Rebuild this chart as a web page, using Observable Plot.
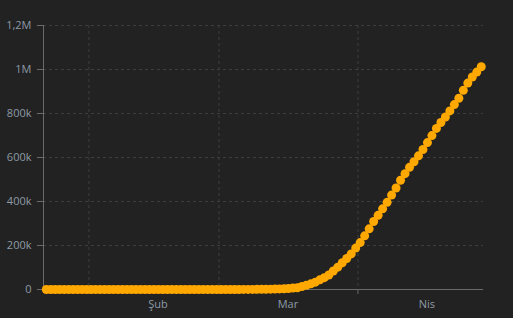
<!DOCTYPE html>
<html><head><meta charset="utf-8">
<script src="https://cdn.jsdelivr.net/npm/d3@7"></script>
<script src="https://cdn.jsdelivr.net/npm/@observablehq/plot@0.6"></script>
<style>html,body{margin:0;padding:0;background:#222222;overflow:hidden;}</style>
</head><body><div id="chart"></div>
<script>
// Daily cumulative values, one per day starting 22 Jan 2020
const startDate = [2020, 0, 22];
const cases = [
  1, 1, 2, 2, 5, 5, 5, 5, 5, 6,
  8, 8, 11, 11, 11, 11, 11, 11, 11, 11,
  12, 12, 13, 13, 13, 13, 13, 13, 13, 13,
  15, 15, 15, 51, 51, 57, 58, 60, 68,
  74, 98, 118, 149, 217, 262, 402, 518, 583, 959,
  1281, 1663, 2179, 2727, 3499, 4632, 6421, 7783, 13747, 19273,
  25600, 33276, 43847, 53740, 65778, 83836, 101657, 121465, 140909, 161831,
  188172,
  213372, 243762, 275586, 308853, 337072, 366667, 396223, 429052, 461437, 496535,
  526396, 555313, 580619, 607670, 636350, 667801, 699706, 732197, 759086, 784326,
  811865, 840351, 869170, 905358, 938154, 965785, 988197, 1012582
];
const yTicks = [0, 200000, 400000, 600000, 800000, 1000000, 1200000];
const yTickLabels = ["0", "200k", "400k", "600k", "800k", "1M", "1,2M"];
const monthStarts = ["2020-02-01", "2020-03-01", "2020-04-01"];
const monthLabels = ["Şub", "Mar", "Nis"];

const data = cases.map((v, i) => ({
  date: new Date(Date.UTC(startDate[0], startDate[1], startDate[2] + i, 12)),
  value: v
}));
const monthDates = monthStarts.map(d => new Date(d + "T00:00:00Z"));
const xDomain = [new Date("2020-01-21T21:00:00Z"), new Date("2020-04-29T00:00:00Z")];

const gridStyle = {stroke: "#3e3e3e", strokeOpacity: 1, strokeDasharray: "3,3"};

const chart = Plot.plot({
  width: 513, height: 318,
  marginLeft: 43, marginRight: 30, marginTop: 25, marginBottom: 29,
  style: {background: "#222222", color: "#8e9aa6", fontFamily: "'Open Sans', sans-serif", fontSize: "11px"},
  x: {type: "utc", domain: xDomain},
  y: {domain: [0, 1200000]},
  marks: [
    Plot.gridY(yTicks.slice(1), gridStyle),
    Plot.gridX(monthDates, gridStyle),
    Plot.ruleY([0], {stroke: "#6a6a6a"}),
    Plot.ruleX([xDomain[0]], {stroke: "#6a6a6a"}),
    Plot.axisY({ticks: yTicks, tickFormat: d => yTickLabels[yTicks.indexOf(d)], tickSize: 6, tickPadding: 6, stroke: "#6a6a6a", label: null}),
    Plot.axisX({ticks: monthDates, tickSize: 5, text: null, stroke: "#6a6a6a", label: null}),
    Plot.axisX({ticks: monthDates, tickSize: 0, tickPadding: 11, dx: 69,
      tickFormat: d => monthLabels[monthDates.findIndex(m => +m === +d)], label: null}),
    Plot.dot(data, {x: "date", y: "value", r: 4.5, fill: "#ffa800", stroke: "none"})
  ]
});
document.getElementById("chart").appendChild(chart);
</script>
</body></html>
